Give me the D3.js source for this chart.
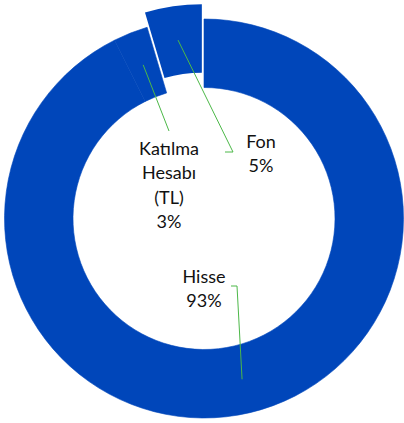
<!DOCTYPE html>
<html>
<head>
<meta charset="utf-8">
<script src="https://cdn.jsdelivr.net/npm/d3@7"></script>
<style>
  body { margin: 0; background: #fff; }
  svg { display: block; }
  text { font-family: Lato, "Open Sans", sans-serif; font-size: 18px; fill: #111; }
</style>
</head>
<body>
<div id="chart"></div>
<script>
// slice names, shares (percent) and the label text lines
var names = ["Hisse", "Katılma Hesabı (TL)", "Fon"];
var shares = [92.6, 2.8, 4.6];
var labelLines = [["Hisse", "93%"], ["Katılma", "Hesabı", "(TL)", "3%"], ["Fon", "5%"]];

var width = 404, height = 423;
var cx = 204, cy = 218.5;
var outerR = 199.5, innerR = 131;
var explode = [0, 0, 15];          // only "Fon" is pulled out
var color = "#0046BA";

// where each label block sits (relative to centre) and how the leader bends
var labelAt = [
  {x: 0, y: 58, anchor: "middle", elbow: [[33, 67.5], [27, 67.5]]},
  {x: -35, y: -70, anchor: "middle", elbow: [[-35, -87.5]]},
  {x: 57, y: -77, anchor: "middle", elbow: [[29, -66.5], [21, -66.5]]}
];

var svg = d3.select("#chart").append("svg")
    .attr("width", width)
    .attr("height", height);

var g = svg.append("g")
    .attr("transform", "translate(" + cx + "," + cy + ")");

var pie = d3.pie().sort(null).value(function(d) { return d; });
var arcs = pie(shares);

var arc = d3.arc().innerRadius(innerR).outerRadius(outerR);

function shift(d, i) {
  var a = (d.startAngle + d.endAngle) / 2;
  return [Math.sin(a) * explode[i], -Math.cos(a) * explode[i]];
}

// slices (same-colour stroke on the joined ones hides the seam)
g.selectAll("path.slice")
    .data(arcs)
  .enter().append("path")
    .attr("class", "slice")
    .attr("d", arc)
    .attr("fill", color)
    .attr("stroke", function(d, i) { return explode[i] ? "none" : color; })
    .attr("stroke-width", 0.6)
    .attr("transform", function(d, i) {
      var s = shift(d, i);
      return "translate(" + s[0] + "," + s[1] + ")";
    });

// leader lines from slice centroid to label
g.selectAll("polyline.leader")
    .data(arcs)
  .enter().append("polyline")
    .attr("class", "leader")
    .attr("fill", "none")
    .attr("stroke", "#4CB848")
    .attr("stroke-width", 1)
    .attr("points", function(d, i) {
      var c = arc.centroid(d), s = shift(d, i);
      var pts = [[c[0] + s[0], c[1] + s[1]]].concat(labelAt[i].elbow);
      return pts.map(function(p) { return p.join(","); }).join(" ");
    });

// labels
var lineH = 24.5;
arcs.forEach(function(d, i) {
  var L = labelAt[i];
  var t = g.append("text")
      .attr("text-anchor", L.anchor)
      .attr("x", L.x)
      .attr("y", L.y);
  labelLines[i].forEach(function(s, k) {
    t.append("tspan")
      .attr("x", L.x)
      .attr("y", L.y + k * lineH)
      .attr("dy", "0.35em")
      .text(s);
  });
});
</script>
</body>
</html>
